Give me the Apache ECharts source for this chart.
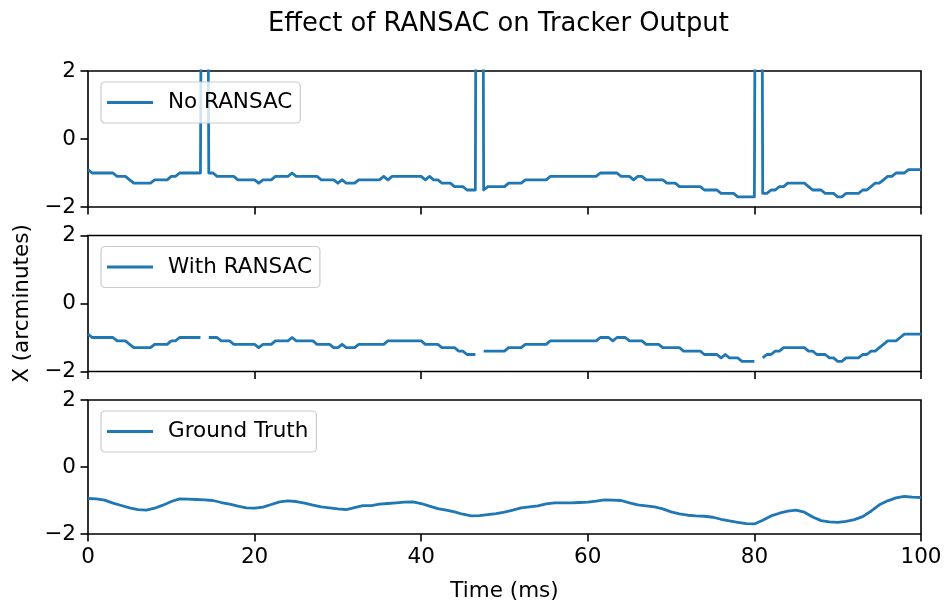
<!DOCTYPE html>
<html>
<head>
<meta charset="utf-8">
<script src="https://cdn.jsdelivr.net/npm/echarts@6/dist/echarts.min.js"></script>
<style>
  html, body { margin: 0; padding: 0; background: #ffffff; }
  #chart { width: 945px; height: 603px; }
</style>
</head>
<body>
<div id="chart"></div>
<script>
// Tracker samples every 0.5 ms, ground truth every 1 ms, both over 0..100 ms.
const TRACKER_STEP_MS = 0.5;
const TRUTH_STEP_MS = 1;

// Horizontal position estimate without outlier rejection (arcminutes).
// The three large values are tracking glitches that shoot far off scale.
const noRansac = [
  -0.9, -1.0, -1.0, -1.0, -1.0, -1.0, -1.0, -1.1, -1.1, -1.1, -1.2, -1.3, -1.3, -1.3, -1.3, -1.3, -1.2, -1.2, -1.2, -1.2,
  -1.1, -1.1, -1.0, -1.0, -1.0, -1.0, -1.0, -1.0, 28.0, -1.0, -1.0, -1.1, -1.1, -1.1, -1.1, -1.1, -1.2, -1.2, -1.2, -1.2,
  -1.2, -1.3, -1.2, -1.2, -1.2, -1.1, -1.1, -1.1, -1.1, -1.0, -1.1, -1.1, -1.1, -1.1, -1.1, -1.1, -1.2, -1.2, -1.2, -1.2,
  -1.3, -1.2, -1.3, -1.3, -1.3, -1.2, -1.2, -1.2, -1.2, -1.2, -1.2, -1.1, -1.2, -1.1, -1.1, -1.1, -1.1, -1.1, -1.1, -1.1,
  -1.1, -1.2, -1.1, -1.2, -1.2, -1.3, -1.3, -1.3, -1.4, -1.4, -1.4, -1.5, -1.5, -1.5, 41.0, -1.5, -1.4, -1.4, -1.4, -1.4,
  -1.4, -1.3, -1.3, -1.3, -1.3, -1.2, -1.2, -1.2, -1.2, -1.2, -1.2, -1.1, -1.1, -1.1, -1.1, -1.1, -1.1, -1.1, -1.1, -1.1,
  -1.1, -1.1, -1.1, -1.0, -1.0, -1.0, -1.0, -1.0, -1.1, -1.1, -1.1, -1.2, -1.1, -1.1, -1.2, -1.2, -1.2, -1.2, -1.2, -1.3,
  -1.3, -1.3, -1.4, -1.4, -1.4, -1.4, -1.4, -1.4, -1.5, -1.5, -1.5, -1.5, -1.6, -1.6, -1.6, -1.6, -1.7, -1.7, -1.7, -1.7,
  -1.7, 35.0, -1.6, -1.6, -1.5, -1.5, -1.4, -1.4, -1.3, -1.3, -1.3, -1.3, -1.3, -1.4, -1.5, -1.5, -1.5, -1.6, -1.6, -1.6,
  -1.7, -1.7, -1.6, -1.6, -1.6, -1.6, -1.5, -1.5, -1.4, -1.3, -1.3, -1.2, -1.1, -1.1, -1.0, -1.0, -1.0, -0.9, -0.9, -0.9,
  -0.9
];

// Same tracker with RANSAC: the glitch frames are rejected (no estimate).
const withRansac = [
  -0.9, -1.0, -1.0, -1.0, -1.0, -1.0, -1.0, -1.1, -1.1, -1.1, -1.2, -1.3, -1.3, -1.3, -1.3, -1.3, -1.2, -1.2, -1.2, -1.2,
  -1.1, -1.1, -1.0, -1.0, -1.0, -1.0, -1.0, -1.0, null, -1.0, -1.0, -1.0, -1.1, -1.1, -1.1, -1.2, -1.2, -1.2, -1.2, -1.2,
  -1.2, -1.3, -1.2, -1.2, -1.2, -1.1, -1.1, -1.1, -1.1, -1.0, -1.1, -1.1, -1.1, -1.1, -1.1, -1.2, -1.2, -1.2, -1.2, -1.3,
  -1.3, -1.2, -1.3, -1.3, -1.3, -1.2, -1.2, -1.2, -1.2, -1.2, -1.2, -1.2, -1.1, -1.1, -1.1, -1.1, -1.1, -1.1, -1.1, -1.1,
  -1.1, -1.2, -1.2, -1.2, -1.2, -1.3, -1.3, -1.3, -1.3, -1.4, -1.4, -1.5, -1.5, -1.5, null, -1.4, -1.4, -1.4, -1.4, -1.4,
  -1.4, -1.3, -1.3, -1.3, -1.3, -1.2, -1.2, -1.2, -1.2, -1.2, -1.2, -1.1, -1.1, -1.1, -1.1, -1.1, -1.1, -1.1, -1.1, -1.1,
  -1.1, -1.1, -1.1, -1.0, -1.0, -1.0, -1.1, -1.0, -1.0, -1.0, -1.1, -1.1, -1.1, -1.1, -1.2, -1.2, -1.2, -1.2, -1.3, -1.3,
  -1.3, -1.3, -1.3, -1.4, -1.4, -1.4, -1.4, -1.4, -1.5, -1.5, -1.5, -1.5, -1.6, -1.5, -1.6, -1.6, -1.6, -1.7, -1.7, -1.7,
  -1.7, null, -1.6, -1.5, -1.5, -1.4, -1.4, -1.3, -1.3, -1.3, -1.3, -1.3, -1.3, -1.4, -1.4, -1.5, -1.5, -1.5, -1.6, -1.6,
  -1.7, -1.7, -1.6, -1.6, -1.6, -1.6, -1.5, -1.5, -1.4, -1.4, -1.3, -1.2, -1.1, -1.1, -1.1, -1.0, -0.9, -0.9, -0.9, -0.9,
  -0.9
];

// Ground-truth eye position (arcminutes), 1 ms resolution.
const groundTruth = [
  -0.94, -0.95, -0.99, -1.08, -1.15, -1.22, -1.27, -1.29, -1.23, -1.14,
  -1.03, -0.95, -0.96, -0.97, -0.98, -1.00, -1.06, -1.11, -1.17, -1.22,
  -1.23, -1.20, -1.12, -1.04, -1.01, -1.03, -1.08, -1.14, -1.19, -1.22,
  -1.25, -1.27, -1.21, -1.15, -1.15, -1.11, -1.09, -1.07, -1.05, -1.04,
  -1.09, -1.17, -1.24, -1.29, -1.34, -1.41, -1.46, -1.45, -1.42, -1.39,
  -1.35, -1.29, -1.22, -1.19, -1.16, -1.10, -1.07, -1.07, -1.07, -1.06,
  -1.05, -1.02, -0.98, -0.99, -1.00, -1.07, -1.13, -1.16, -1.19, -1.25,
  -1.34, -1.40, -1.44, -1.46, -1.47, -1.50, -1.56, -1.61, -1.65, -1.69,
  -1.70, -1.59, -1.46, -1.38, -1.32, -1.29, -1.35, -1.49, -1.60, -1.64,
  -1.65, -1.62, -1.57, -1.48, -1.32, -1.13, -1.01, -0.92, -0.88, -0.90,
  -0.91
];

const seriesNames = ['No RANSAC', 'With RANSAC', 'Ground Truth'];
const xTicks = [0, 20, 40, 60, 80, 100];
const yTicks = [-2, 0, 2];

const trackerTime = noRansac.map((_, i) => i * TRACKER_STEP_MS);
const truthTime = groundTruth.map((_, i) => i * TRUTH_STEP_MS);
const pairs = (t, v) => t.map((x, i) => [x, v[i]]);

const FONT = 'DejaVu Sans';
const BLUE = '#1f77b4';
const BASE = 21.5;

const panelTops = [71, 235.5, 400];
const panelHeight = 136;

const chart = echarts.init(document.getElementById('chart'), null, { renderer: 'canvas' });

const grids = panelTops.map(top => ({
  left: 88, width: 833, top: top, height: panelHeight,
  show: true, borderColor: '#000', borderWidth: 1.6, backgroundColor: 'transparent'
}));

const xAxes = panelTops.map((_, i) => ({
  type: 'value', gridIndex: i, position: 'bottom',
  min: xTicks[0], max: xTicks[xTicks.length - 1], interval: xTicks[1] - xTicks[0],
  axisLine: { show: false, onZero: false },
  axisTick: { show: true, length: 7.5, lineStyle: { color: '#000', width: 1.6 } },
  axisLabel: { show: i === 2, fontSize: BASE, color: '#000', fontFamily: FONT, margin: 12 },
  splitLine: { show: false },
  name: i === 2 ? 'Time (ms)' : '',
  nameLocation: 'middle', nameGap: 46,
  nameTextStyle: { fontSize: BASE, color: '#000', fontFamily: FONT }
}));

const yAxes = panelTops.map((_, i) => ({
  type: 'value', gridIndex: i, position: 'left',
  min: yTicks[0], max: yTicks[yTicks.length - 1], interval: yTicks[1] - yTicks[0],
  axisLine: { show: false, onZero: false },
  axisTick: { show: true, length: 7.5, lineStyle: { color: '#000', width: 1.6 } },
  axisLabel: {
    fontSize: BASE, color: '#000', fontFamily: FONT, margin: 12,
    formatter: v => (v < 0 ? '\u2212' + Math.abs(v) : String(v))
  },
  splitLine: { show: false },
  name: i === 1 ? 'X (arcminutes)' : '',
  nameLocation: 'middle', nameGap: 42, nameRotate: 90,
  nameTextStyle: { fontSize: BASE, color: '#000', fontFamily: FONT }
}));

const legends = seriesNames.map((name, i) => ({
  data: [name],
  left: 101, top: panelTops[i] + 11,
  orient: 'horizontal', selectedMode: false,
  icon: 'rect', itemWidth: 46, itemHeight: 3, itemGap: 0,
  padding: [8, 8, 8, 6],
  backgroundColor: 'rgba(255,255,255,0.8)',
  borderColor: '#cccccc', borderWidth: 1.2, borderRadius: 4,
  textStyle: { fontSize: BASE, color: '#000', fontFamily: FONT, lineHeight: 25, padding: [0, 0, 0, 10] }
}));

const lineSeries = (name, data, idx) => ({
  name: name, type: 'line', data: data,
  xAxisIndex: idx, yAxisIndex: idx,
  showSymbol: false, symbol: 'none',
  connectNulls: false, clip: true,
  lineStyle: { color: BLUE, width: 2.8, join: 'round' },
  itemStyle: { color: BLUE },
  emphasis: { disabled: true }
});

chart.setOption({
  animation: false,
  backgroundColor: '#ffffff',
  textStyle: { fontFamily: FONT },
  title: {
    text: 'Effect of RANSAC on Tracker Output',
    left: 263, top: 6,
    textStyle: { fontSize: 25.8, fontWeight: 'normal', color: '#000', fontFamily: FONT }
  },
  legend: legends,
  grid: grids,
  xAxis: xAxes,
  yAxis: yAxes,
  series: [
    lineSeries(seriesNames[0], pairs(trackerTime, noRansac), 0),
    lineSeries(seriesNames[1], pairs(trackerTime, withRansac), 1),
    lineSeries(seriesNames[2], pairs(truthTime, groundTruth), 2)
  ]
});
</script>
</body>
</html>
